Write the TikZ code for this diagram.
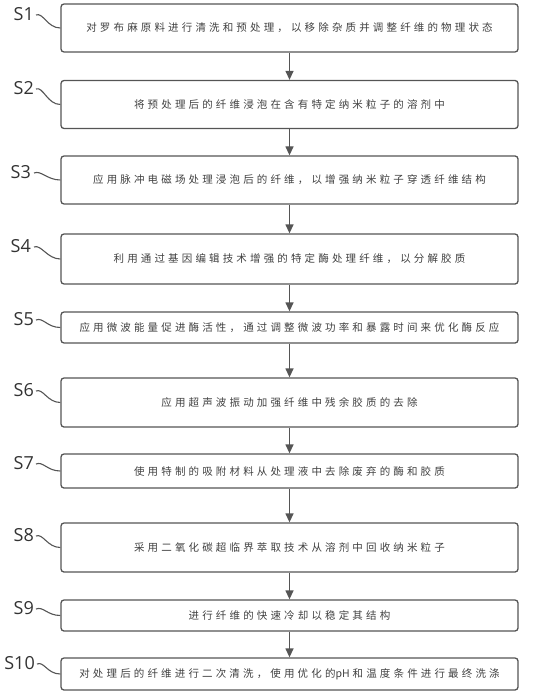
\documentclass[tikz,border=0pt]{standalone}
\usepackage{fontspec}
\newfontfamily\cjk[LetterSpace=30]{Noto Sans CJK SC}
\newfontfamily\cjktight{Noto Sans CJK SC}
\newfontfamily\labelfont{Open Sans}
\usetikzlibrary{arrows.meta}
\definecolor{linegray}{HTML}{555555}
\definecolor{textgray}{HTML}{404040}

\begin{document}
\begin{tikzpicture}[
    x=1pt, y=-1pt,
    stepbox/.style={draw=linegray, line width=1.3pt, rectangle, rounded corners=3pt,
        minimum width=457pt, minimum height=48pt, align=center, text=textgray,
        font=\cjk\fontsize{10.5}{12}\selectfont},
    shortbox/.style={stepbox, minimum height=32pt},
    steplabel/.style={anchor=east, inner sep=0pt, text=black!80,
        font=\labelfont\fontsize{18}{20}\selectfont},
    lead/.style={draw=linegray, line width=1.1pt},
    arrow/.style={draw=linegray, line width=1.3pt, -{Triangle[length=9pt, width=8pt]}},
]
\useasboundingbox (0,0) rectangle (533,695);

% Steps
\node[stepbox] (s1) at (289.5, 28) {对罗布麻原料进行清洗和预处理，以移除杂质并调整纤维的物理状态};
\node[stepbox] (s2) at (289.5, 104.5) {将预处理后的纤维浸泡在含有特定纳米粒子的溶剂中};
\node[stepbox] (s3) at (289.5, 180) {应用脉冲电磁场处理浸泡后的纤维，以增强纳米粒子穿透纤维结构};
\node[stepbox, minimum height=50pt] (s4) at (289.5, 259) {利用通过基因编辑技术增强的特定酶处理纤维，以分解胶质};
\node[shortbox, minimum height=31pt] (s5) at (289.5, 327.5) {应用微波能量促进酶活性，通过调整微波功率和暴露时间来优化酶反应};
\node[stepbox, minimum height=49pt] (s6) at (289.5, 402.5) {应用超声波振动加强纤维中残余胶质的去除};
\node[shortbox, minimum height=34pt] (s7) at (289.5, 471) {使用特制的吸附材料从处理液中去除废弃的酶和胶质};
\node[stepbox, minimum height=49pt] (s8) at (289.5, 547.5) {采用二氧化碳超临界萃取技术从溶剂中回收纳米粒子};
\node[shortbox, minimum height=31pt] (s9) at (289.5, 615.5) {进行纤维的快速冷却以稳定其结构};
\node[shortbox] (s10) at (289.5, 674) {对处理后的纤维进行二次清洗，使用优化的{\cjktight pH\hspace{3pt}}和温度条件进行最终洗涤};

% Labels
\node[steplabel] (l1) at (34, 14) {S1};
\node[steplabel] (l2) at (34, 88) {S2};
\node[steplabel] (l3) at (31, 172) {S3};
\node[steplabel] (l4) at (31, 246) {S4};
\node[steplabel] (l5) at (34, 319) {S5};
\node[steplabel] (l6) at (34, 390) {S6};
\node[steplabel] (l7) at (34, 463) {S7};
\node[steplabel] (l8) at (34, 535) {S8};
\node[steplabel] (l9) at (34, 608) {S9};
\node[steplabel] (l10) at (35, 663) {S10};

% Leader curves
\draw[lead] (l1.east) ++(2,1) .. controls +(7,-3) and +(-13,0) .. (s1.west);
\draw[lead] (l2.east) ++(2,1) .. controls +(7,-3) and +(-13,0) .. (s2.west);
\draw[lead] (l3.east) ++(3,1) .. controls +(7,-3) and +(-13,0) .. (s3.west);
\draw[lead] (l4.east) ++(3,1) .. controls +(7,-3) and +(-13,0) .. (s4.west);
\draw[lead] (l5.east) ++(2,1) .. controls +(7,-3) and +(-13,0) .. (s5.west);
\draw[lead] (l6.east) ++(2,1) .. controls +(7,-3) and +(-13,0) .. (s6.west);
\draw[lead] (l7.east) ++(2,1) .. controls +(7,-3) and +(-13,0) .. (s7.west);
\draw[lead] (l8.east) ++(2,1) .. controls +(7,-3) and +(-13,0) .. (s8.west);
\draw[lead] (l9.east) ++(2,1) .. controls +(7,-3) and +(-13,0) .. (s9.west);
\draw[lead] (l10.east) ++(2,1) .. controls +(7,-3) and +(-13,0) .. (s10.west);

% Arrows
\draw[arrow] (s1) -- (s2);
\draw[arrow] (s2) -- (s3);
\draw[arrow] (s3) -- (s4);
\draw[arrow] (s4) -- (s5);
\draw[arrow] (s5) -- (s6);
\draw[arrow] (s6) -- (s7);
\draw[arrow] (s7) -- (s8);
\draw[arrow] (s8) -- (s9);
\draw[arrow] (s9) -- (s10);

\end{tikzpicture}
\end{document}
